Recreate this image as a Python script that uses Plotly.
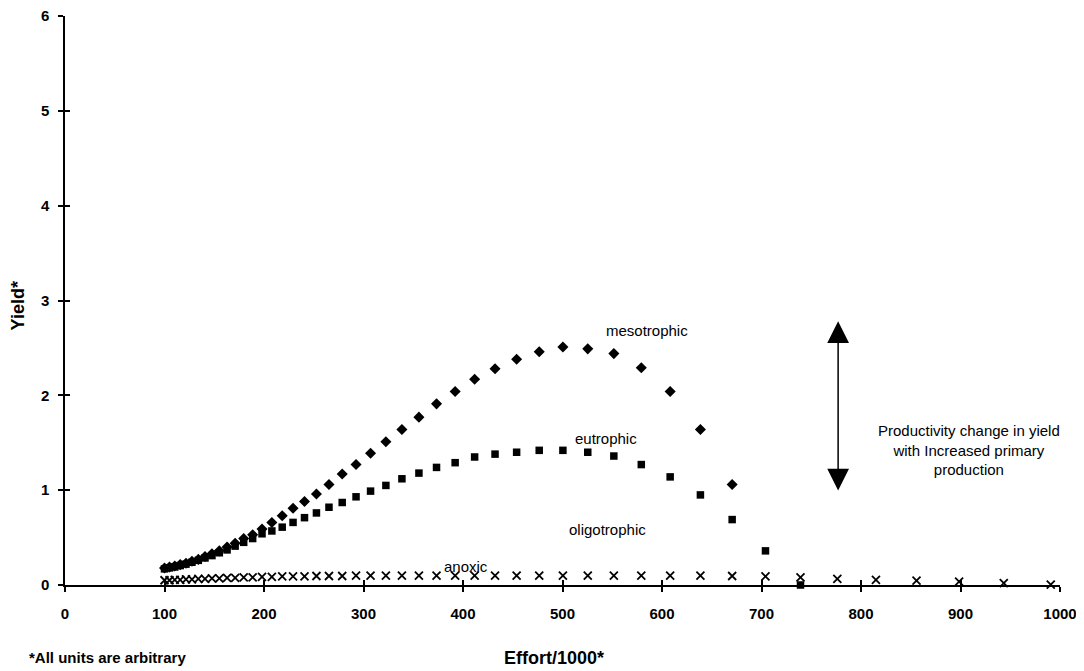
import plotly.graph_objects as go

# Effort values (x)
effort = [100, 105, 110.3, 115.8, 121.6, 127.6, 134, 140.7, 147.7, 155.1,
          162.9, 171, 179.6, 188.6, 198, 207.9, 218.3, 229.2, 240.7, 252.7,
          265.3, 278.6, 292.5, 307.1, 322.5, 338.6, 355.7, 373.4, 392.1, 411.7,
          432.2, 453.9, 476.6, 500.4, 525.4, 551.6, 579.2, 608.2, 638.6, 670.5,
          704, 739.2, 776.2, 815, 855.8, 898.6, 943.5, 990.7]

mesotrophic = [0.18, 0.19, 0.20, 0.215, 0.23, 0.25, 0.27, 0.30, 0.33, 0.36,
               0.40, 0.44, 0.49, 0.53, 0.59, 0.66, 0.73, 0.81, 0.88, 0.96,
               1.06, 1.17, 1.27, 1.39, 1.51, 1.64, 1.77, 1.91, 2.04, 2.17,
               2.28, 2.38, 2.46, 2.51, 2.49, 2.44, 2.29, 2.04, 1.64, 1.06]

eutrophic = [0.17, 0.18, 0.19, 0.205, 0.22, 0.24, 0.26, 0.285, 0.31, 0.34,
             0.37, 0.41, 0.45, 0.49, 0.54, 0.57, 0.61, 0.66, 0.71, 0.76,
             0.82, 0.87, 0.93, 0.99, 1.05, 1.12, 1.18, 1.24, 1.29, 1.35,
             1.38, 1.40, 1.42, 1.42, 1.40, 1.36, 1.27, 1.14, 0.95, 0.69,
             0.36, 0.0]

anoxic = [0.05, 0.05, 0.055, 0.055, 0.06, 0.06, 0.065, 0.065, 0.07, 0.07,
          0.075, 0.075, 0.08, 0.08, 0.085, 0.085, 0.09, 0.09, 0.09, 0.095,
          0.095, 0.095, 0.10, 0.10, 0.10, 0.10, 0.10, 0.10, 0.10, 0.10,
          0.10, 0.10, 0.10, 0.10, 0.10, 0.10, 0.10, 0.10, 0.10, 0.095,
          0.09, 0.08, 0.065, 0.055, 0.045, 0.035, 0.02, 0.005]

x_ticks = [0, 100, 200, 300, 400, 500, 600, 700, 800, 900, 1000]
y_ticks = [0, 1, 2, 3, 4, 5, 6]

FONT = "Liberation Sans, Arial, sans-serif"

fig = go.Figure()

fig.add_trace(go.Scatter(
    x=effort[:len(mesotrophic)], y=mesotrophic, mode="markers", name="mesotrophic",
    marker=dict(symbol="diamond", size=8.5, color="black"), cliponaxis=False))
fig.add_trace(go.Scatter(
    x=effort[:len(eutrophic)], y=eutrophic, mode="markers", name="eutrophic",
    marker=dict(symbol="square", size=7.5, color="black"), cliponaxis=False))
fig.add_trace(go.Scatter(
    x=effort[:len(anoxic)], y=anoxic, mode="markers", name="anoxic",
    marker=dict(symbol="x-thin", size=8, color="black",
                line=dict(color="black", width=1.8)), cliponaxis=False))
# dummy trace for overlay axes (inside half of the crossing ticks)
fig.add_trace(go.Scatter(x=[], y=[], xaxis="x2", yaxis="y2", showlegend=False,
                         hoverinfo="skip"))

axis_common = dict(showgrid=False, zeroline=False, linecolor="black", linewidth=1.5,
                   tickcolor="black", tickwidth=1.5, ticklen=5, automargin=False)

# the page body adds an 8 px offset; the figure is sized to compensate
fig.update_layout(
    width=1076, height=663,
    margin=dict(l=57, r=24, t=8, b=86),
    paper_bgcolor="white", plot_bgcolor="white",
    showlegend=False,
    font=dict(family=FONT, color="black"),
    xaxis=dict(range=[0, 1000], tickvals=x_ticks, ticks="outside", showline=True,
               tickfont=dict(family=FONT, size=15, weight="bold", color="black"),
               ticklabelstandoff=9, ticklabeloverflow="allow", **axis_common),
    yaxis=dict(range=[0, 6], tickvals=y_ticks, ticks="outside", showline=True,
               tickfont=dict(family=FONT, size=15, weight="bold", color="black"),
               ticklabelstandoff=6, ticklabeloverflow="allow", **axis_common),
    xaxis2=dict(range=[0, 1000], tickvals=x_ticks, ticks="inside", overlaying="x",
                anchor="y2", showline=False, showticklabels=False, **axis_common),
    yaxis2=dict(range=[0, 6], tickvals=y_ticks, ticks="inside", overlaying="y",
                anchor="x2", showline=False, showticklabels=False, **axis_common),
)

ann = []
# axis titles and footnote (paper coordinates)
ann.append(dict(text="Yield*", x=-0.047, y=0.49, xref="paper", yref="paper",
                textangle=-90, showarrow=False, xanchor="center", yanchor="middle",
                font=dict(family=FONT, size=18, weight="bold", color="black")))
ann.append(dict(text="Effort/1000*", x=0.491, y=-0.128, xref="paper", yref="paper",
                showarrow=False, xanchor="center", yanchor="middle",
                font=dict(family=FONT, size=18, weight="bold", color="black")))
ann.append(dict(text="*All units are arbitrary", x=-0.038, y=-0.128, xref="paper",
                yref="paper", showarrow=False, xanchor="left", yanchor="middle",
                font=dict(family=FONT, size=15, weight="bold", color="black")))
# series labels
for txt, lx, ly in [("mesotrophic", 585, 2.68), ("eutrophic", 544, 1.545),
                    ("oligotrophic", 545, 0.59), ("anoxic", 403, 0.19)]:
    ann.append(dict(text=txt, x=lx, y=ly, xref="x", yref="y", showarrow=False,
                    xanchor="center", yanchor="middle",
                    font=dict(family=FONT, size=15, color="black")))
# explanatory text
ann.append(dict(text="Productivity change in yield<br>with Increased primary<br>production",
                x=909, y=1.42, xref="x", yref="y", showarrow=False,
                xanchor="center", yanchor="middle", align="center",
                font=dict(family=FONT, size=15, color="black")))
# double-headed arrow
ann.append(dict(text="", x=777, y=2.78, ax=777, ay=0.98, xref="x", yref="y",
                axref="x", ayref="y", showarrow=True, arrowhead=2, startarrowhead=2,
                arrowside="end+start", arrowwidth=1.5, arrowsize=2.9,
                startarrowsize=2.9, arrowcolor="black"))
fig.update_layout(annotations=ann)

fig.write_html("out.html")
